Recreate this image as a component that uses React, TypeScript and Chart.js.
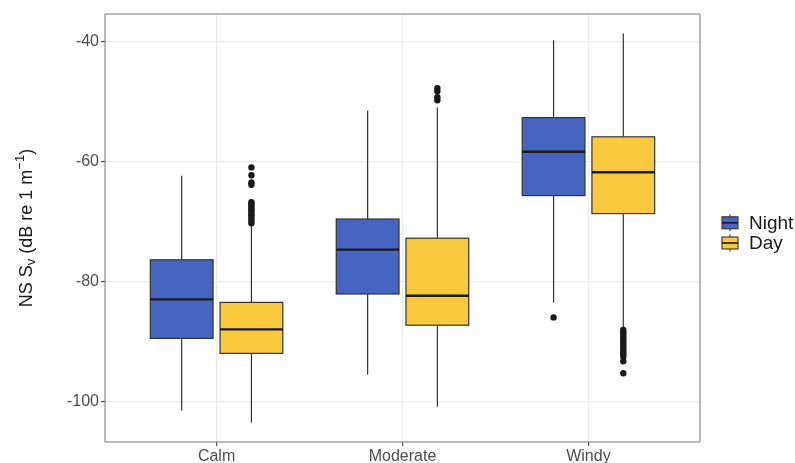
import React, { useEffect, useRef } from 'react';
import { Chart, registerables } from 'chart.js';

Chart.register(...registerables);

// Wind conditions on the x axis, light regime as the grouping
const categories = ['Calm', 'Moderate', 'Windy'];
const groups = ['Night', 'Day'];
const groupColors = ['#4665C1', '#F9C93D'];

// Box statistics per category (dB re 1 m^-1)
const nightLow = [-101.4, -95.4, -83.4];
const nightQ1 = [-89.4, -82.0, -65.6];
const nightMedian = [-82.9, -74.6, -58.3];
const nightQ3 = [-76.3, -69.5, -52.6];
const nightHigh = [-62.3, -51.4, -39.7];

const dayLow = [-103.4, -100.8, -87.7];
const dayQ1 = [-91.9, -87.2, -68.6];
const dayMedian = [-87.9, -82.3, -61.7];
const dayQ3 = [-83.4, -72.7, -55.8];
const dayHigh = [-70.7, -50.9, -38.6];

// Points beyond 1.5 * IQR
const nightOutliers = [[], [], [-85.9]];
const dayOutliers = [
  [-60.9, -62.2, -63.4, -63.8, -66.7, -67.0, -67.3, -67.7, -68.0, -68.3, -68.7, -69.0, -69.4, -69.8, -70.2],
  [-47.7, -48.2, -49.2, -49.7],
  [-88.0, -88.4, -88.8, -89.2, -89.6, -90.0, -90.4, -90.8, -91.2, -91.6, -92.0, -92.4, -93.2, -95.2],
];

const yTickValues = [-100, -80, -60, -40];

const FONT = '"Liberation Sans", Arial, Helvetica, sans-serif';
const DODGE = [-0.1875, 0.1875];
const BOX_WIDTH = 0.3375;

const boxStats = [
  { low: nightLow, q1: nightQ1, median: nightMedian, q3: nightQ3, high: nightHigh },
  { low: dayLow, q1: dayQ1, median: dayMedian, q3: dayQ3, high: dayHigh },
];

const boxPlugin = {
  id: 'boxes',
  beforeDatasetsDraw(chart: any) {
    const { ctx, scales } = chart;
    const x = scales.x;
    const y = scales.y;
    ctx.save();
    boxStats.forEach((s, g) => {
      categories.forEach((_, i) => {
        const c = i + 1 + DODGE[g];
        const left = x.getPixelForValue(c - BOX_WIDTH / 2);
        const right = x.getPixelForValue(c + BOX_WIDTH / 2);
        const mid = x.getPixelForValue(c);
        const yLow = y.getPixelForValue(s.low[i]);
        const yQ1 = y.getPixelForValue(s.q1[i]);
        const yMed = y.getPixelForValue(s.median[i]);
        const yQ3 = y.getPixelForValue(s.q3[i]);
        const yHigh = y.getPixelForValue(s.high[i]);

        ctx.strokeStyle = '#333333';
        ctx.lineWidth = 1.2;
        ctx.beginPath();
        ctx.moveTo(mid, yHigh);
        ctx.lineTo(mid, yQ3);
        ctx.moveTo(mid, yQ1);
        ctx.lineTo(mid, yLow);
        ctx.stroke();

        ctx.fillStyle = groupColors[g];
        ctx.fillRect(left, yQ3, right - left, yQ1 - yQ3);
        ctx.strokeRect(left, yQ3, right - left, yQ1 - yQ3);

        ctx.strokeStyle = '#1a1a1a';
        ctx.lineWidth = 2.4;
        ctx.beginPath();
        ctx.moveTo(left, yMed);
        ctx.lineTo(right, yMed);
        ctx.stroke();
      });
    });
    ctx.restore();
  },
};

const decorPlugin = {
  id: 'decor',
  afterDraw(chart: any) {
    const { ctx, chartArea } = chart;
    ctx.save();

    // panel border
    ctx.strokeStyle = '#808080';
    ctx.lineWidth = 1.1;
    ctx.strokeRect(chartArea.left, chartArea.top, chartArea.right - chartArea.left, chartArea.bottom - chartArea.top);

    // y axis title with subscript and superscript
    const cy = (chartArea.top + chartArea.bottom) / 2;
    const parts = [
      { t: 'NS S', size: 18, dy: 0 },
      { t: 'v', size: 13, dy: 4 },
      { t: ' (dB re 1 m', size: 18, dy: 0 },
      { t: '\u22121', size: 13, dy: -7 },
      { t: ')', size: 18, dy: 0 },
    ];
    let total = 0;
    parts.forEach((p) => {
      ctx.font = `${p.size}px ${FONT}`;
      total += ctx.measureText(p.t).width;
    });
    ctx.translate(27, cy);
    ctx.rotate(-Math.PI / 2);
    ctx.fillStyle = '#1a1a1a';
    ctx.textBaseline = 'middle';
    ctx.textAlign = 'left';
    let px = -total / 2;
    parts.forEach((p) => {
      ctx.font = `${p.size}px ${FONT}`;
      ctx.fillText(p.t, px, p.dy);
      px += ctx.measureText(p.t).width;
    });
    ctx.setTransform(1, 0, 0, 1, 0, 0);

    // legend
    const keyLeft = chartArea.right + 22;
    const keyW = 16;
    const keyH = 12;
    const rowCenters = [222.8, 243];
    groups.forEach((name, g) => {
      const yc = rowCenters[g];
      const xc = keyLeft + keyW / 2;
      ctx.strokeStyle = '#333333';
      ctx.lineWidth = 1.1;
      ctx.beginPath();
      ctx.moveTo(xc, yc - 8.5);
      ctx.lineTo(xc, yc + 8.5);
      ctx.stroke();
      ctx.fillStyle = groupColors[g];
      ctx.fillRect(keyLeft, yc - keyH / 2, keyW, keyH);
      ctx.strokeRect(keyLeft, yc - keyH / 2, keyW, keyH);
      ctx.strokeStyle = '#1a1a1a';
      ctx.lineWidth = 1.6;
      ctx.beginPath();
      ctx.moveTo(keyLeft, yc);
      ctx.lineTo(keyLeft + keyW, yc);
      ctx.stroke();

      ctx.fillStyle = '#1a1a1a';
      ctx.font = `19px ${FONT}`;
      ctx.textBaseline = 'middle';
      ctx.textAlign = 'left';
      ctx.fillText(name, keyLeft + 27, yc + 1);
    });

    ctx.restore();
  },
};

export default function App() {
  const canvasRef = useRef<HTMLCanvasElement | null>(null);

  useEffect(() => {
    document.body.style.margin = '0';
    const canvas = canvasRef.current;
    if (!canvas) return;

    const outlierSets = [nightOutliers, dayOutliers].map((sets, g) => ({
      label: groups[g],
      data: sets.flatMap((vals, i) => vals.map((v) => ({ x: i + 1 + DODGE[g], y: v }))),
      pointRadius: 3.2,
      pointHoverRadius: 3.2,
      pointBackgroundColor: '#1a1a1a',
      pointBorderWidth: 0,
      showLine: false,
    }));

    const chart = new Chart(canvas, {
      type: 'scatter',
      data: { datasets: outlierSets },
      options: {
        animation: false,
        responsive: false,
        maintainAspectRatio: false,
        events: [],
        layout: { padding: { left: 0, top: 14, right: 95, bottom: 0 } },
        plugins: {
          legend: { display: false },
          tooltip: { enabled: false },
          title: { display: false },
        },
        scales: {
          x: {
            type: 'linear',
            min: 0.4,
            max: 3.6,
            afterBuildTicks: (scale: any) => {
              scale.ticks = categories.map((_, i) => ({ value: i + 1 }));
            },
            afterFit: (scale: any) => {
              scale.height = 21;
            },
            ticks: {
              autoSkip: false,
              maxRotation: 0,
              padding: 1,
              color: '#4d4d4d',
              font: { family: FONT, size: 16 },
              callback: (v: any) => categories[Math.round(Number(v)) - 1] ?? '',
            },
            grid: {
              color: '#ebebeb',
              lineWidth: 1.2,
              tickLength: 4,
              tickColor: '#555555',
            },
            border: { display: false },
          },
          y: {
            type: 'linear',
            min: -106.67,
            max: -35.33,
            afterBuildTicks: (scale: any) => {
              scale.ticks = yTickValues.map((v) => ({ value: v }));
            },
            afterFit: (scale: any) => {
              scale.width = 105;
            },
            ticks: {
              padding: 2,
              color: '#4d4d4d',
              font: { family: FONT, size: 16 },
              callback: (v: any) => String(v),
            },
            grid: {
              color: '#ebebeb',
              lineWidth: 1.2,
              tickLength: 4,
              tickColor: '#555555',
            },
            border: { display: false },
          },
        },
      },
      plugins: [boxPlugin, decorPlugin],
    });

    return () => chart.destroy();
  }, []);

  return <canvas ref={canvasRef} width={795} height={463} style={{ display: 'block' }} />;
}
